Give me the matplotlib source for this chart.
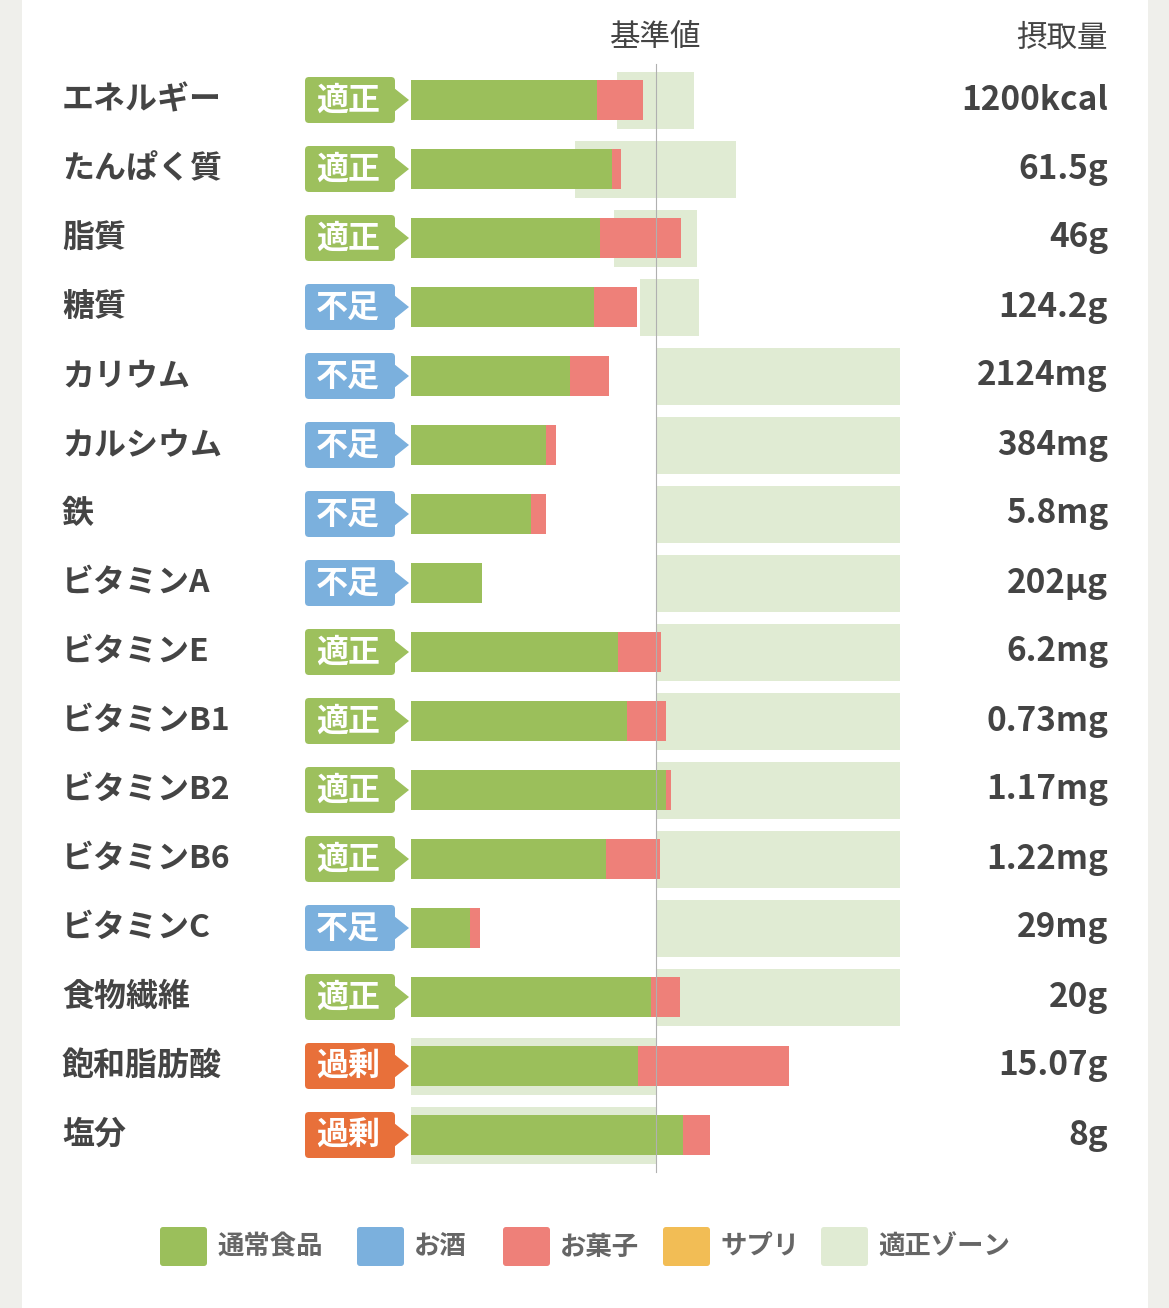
import matplotlib.pyplot as plt
from matplotlib.patches import FancyBboxPatch, Polygon, Rectangle

plt.rcParams['font.family'] = ['Noto Sans CJK JP', 'DejaVu Sans']

nutrients = ['エネルギー', 'たんぱく質', '脂質', '糖質', 'カリウム', 'カルシウム', '鉄',
             'ビタミンA', 'ビタミンE', 'ビタミンB1', 'ビタミンB2', 'ビタミンB6', 'ビタミンC',
             '食物繊維', '飽和脂肪酸', '塩分']
status = ['適正', '適正', '適正', '不足', '不足', '不足', '不足', '不足', '適正', '適正',
          '適正', '適正', '不足', '適正', '過剰', '過剰']
intake = ['1200kcal', '61.5g', '46g', '124.2g', '2124mg', '384mg', '5.8mg', '202µg',
          '6.2mg', '0.73mg', '1.17mg', '1.22mg', '29mg', '20g', '15.07g', '8g']
# percent of reference value
food = [75.9, 82.0, 77.1, 74.7, 64.9, 55.1, 49.0, 29.0, 84.5, 88.2, 104.1, 79.6, 24.1, 98.0, 92.7, 111.0]
sweets = [18.8, 3.7, 33.1, 17.5, 15.9, 4.1, 6.1, 0.0, 17.5, 15.9, 2.0, 22.0, 4.1, 11.8, 61.6, 11.0]
zone_lo = [84.1, 66.9, 82.9, 93.5, 100, 100, 100, 100, 100, 100, 100, 100, 100, 100, 0, 0]
zone_hi = [115.5, 132.7, 116.7, 117.6, 200, 200, 200, 200, 200, 200, 200, 200, 200, 200, 100, 100]
legend_labels = ['通常食品', 'お酒', 'お菓子', 'サプリ', '適正ゾーン']

GREEN = '#9bbf5b'
RED = '#ee8079'
ZONE = '#e0ebd3'
BADGE = {'適正': '#9dc05d', '不足': '#7bb0dd', '過剰': '#e8703a'}
legend_colors = [GREEN, '#7bb0dd', RED, '#f2bd55', ZONE]
TEXT = '#444444'

W, H = 1169, 1308
fig = plt.figure(figsize=(W / 100, H / 100), dpi=100)
fig.patch.set_facecolor('#efefeb')

# background axes in pixel coordinates
bg = fig.add_axes([0, 0, 1, 1])
bg.set_xlim(0, W)
bg.set_ylim(H, 0)
bg.axis('off')
bg.add_patch(Rectangle((22, 0), 1126, H, facecolor='white', edgecolor='none'))

row0, step = 100, 69
bg.text(656, 38, '基準値', ha='center', va='center', fontsize=22, color=TEXT)
bg.text(1108, 38, '摂取量', ha='right', va='center', fontsize=22, color=TEXT)

for i, name in enumerate(nutrients):
    y = row0 + i * step
    bg.text(62, y, name, ha='left', va='center', fontsize=23, fontweight='bold', color=TEXT)
    bg.text(1108, y, intake[i], ha='right', va='center', fontsize=24, fontweight='bold', color=TEXT)
    c = BADGE[status[i]]
    bg.add_patch(FancyBboxPatch((305, y - 23), 90, 46, boxstyle='round,pad=0,rounding_size=4',
                                facecolor=c, edgecolor='none'))
    bg.add_patch(Polygon([(394, y - 12), (409, y), (394, y + 12)], closed=True, facecolor=c, edgecolor='none'))
    bg.text(348, y + 1, status[i], ha='center', va='center', fontsize=23, fontweight='bold', color='white')

# bar axes: x in percent of reference (100% at the reference line)
x0, x1 = 411, 900
ax = fig.add_axes([x0 / W, 0, (x1 - x0) / W, 1])
ax.set_xlim(0, (x1 - x0) / 2.45)
ax.set_ylim(H, 0)
ax.axis('off')
ys = [row0 + i * step for i in range(len(nutrients))]
ax.barh(ys, [h - l for l, h in zip(zone_lo, zone_hi)], left=zone_lo, height=57, color=ZONE, zorder=1)
ax.barh(ys, food, height=40, color=GREEN, zorder=2)
ax.barh(ys, sweets, left=food, height=40, color=RED, zorder=3)
ax.plot([100, 100], [64, 1172], color='#b0b0b0', lw=0.8, zorder=4)

# legend
lx = [160, 357, 503, 663, 821]
for x, lab, c in zip(lx, legend_labels, legend_colors):
    bg.add_patch(FancyBboxPatch((x, 1227), 47, 39, boxstyle='round,pad=0,rounding_size=3',
                                facecolor=c, edgecolor='none'))
    bg.text(x + 57, 1247, lab, ha='left', va='center', fontsize=19, fontweight='bold', color='#666666')

fig.savefig('out.png', dpi=100, facecolor=fig.get_facecolor())
